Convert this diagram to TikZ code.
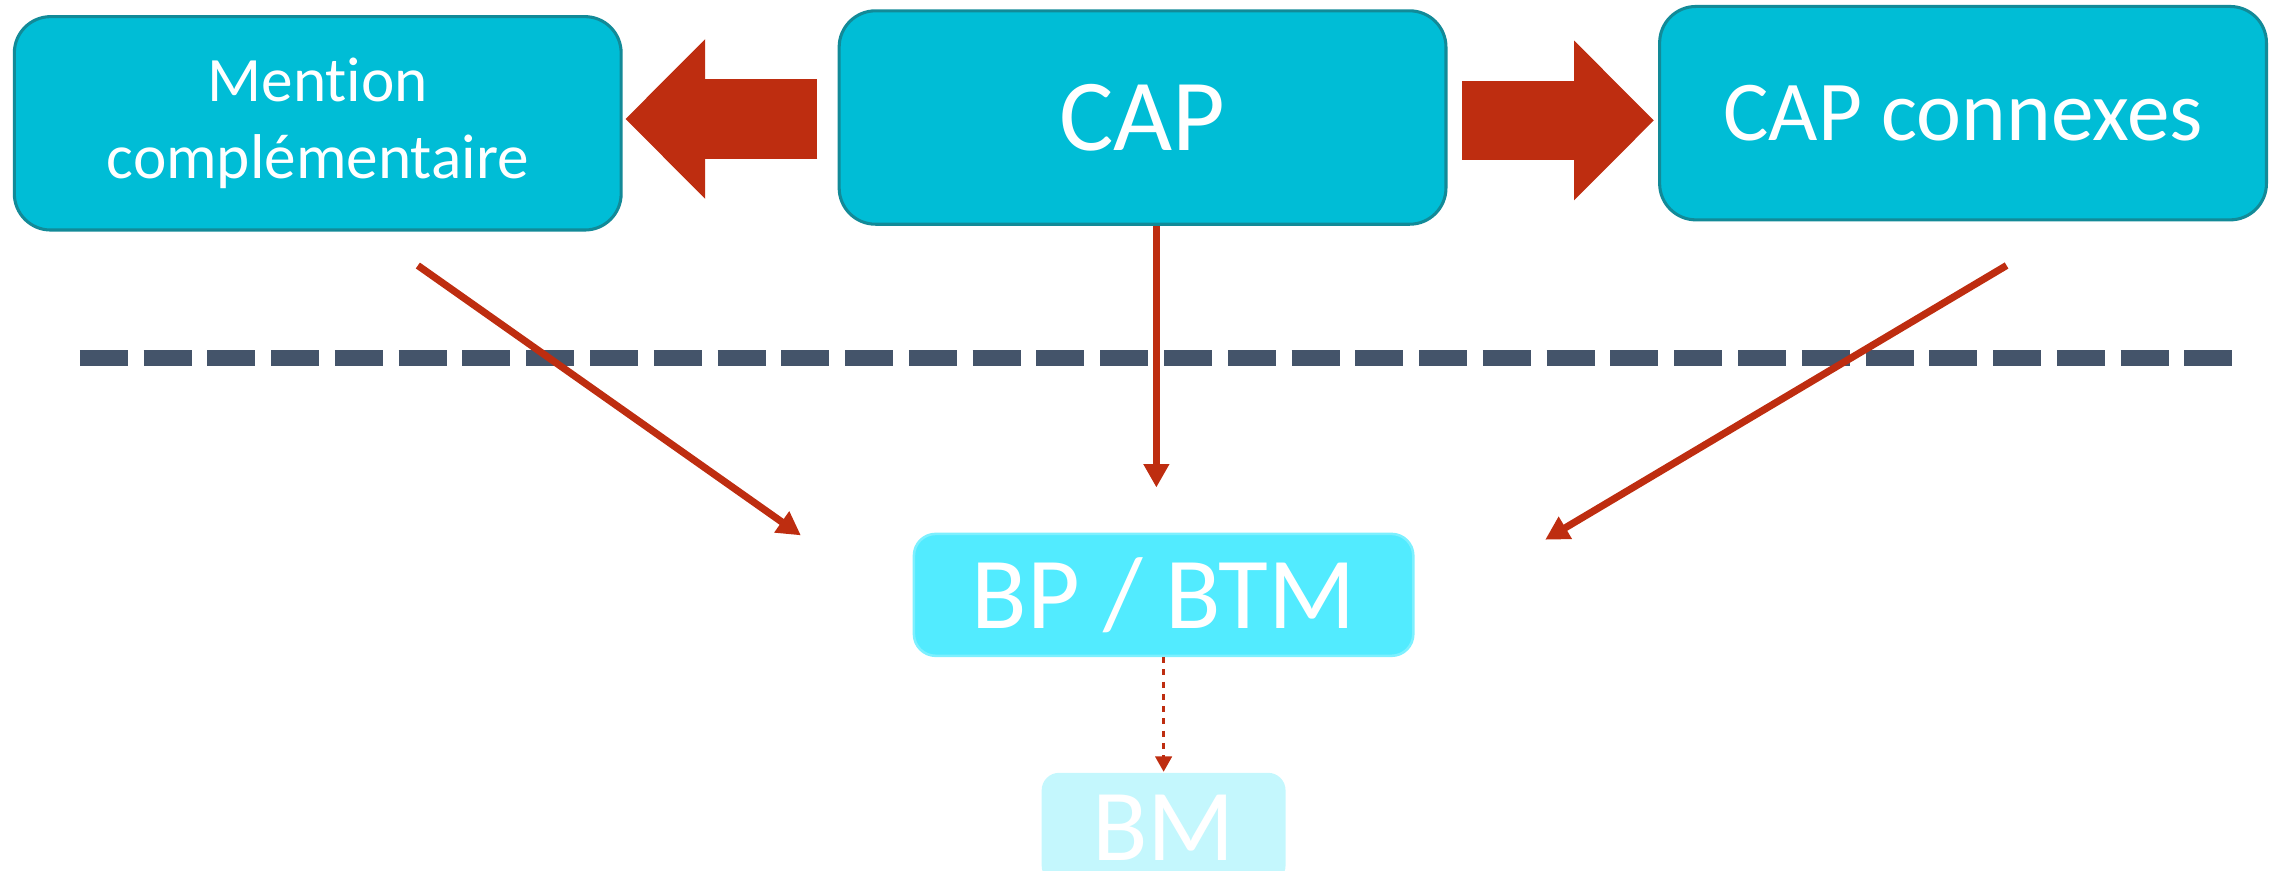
\documentclass[tikz,border=0pt]{standalone}
\usepackage{fontspec}
\setmainfont{Carlito}[Ligatures=NoCommon]
\usepackage{tikz}
\usetikzlibrary{arrows.meta}
\usetikzlibrary{positioning}
\definecolor{capblue}{RGB}{0,189,214}
\definecolor{capedge}{RGB}{18,138,152}
\definecolor{bpblue}{RGB}{82,235,255}
\definecolor{bpedge}{RGB}{125,240,255}
\definecolor{bmblue}{RGB}{196,247,253}
\definecolor{darkred}{RGB}{190,45,16}
\definecolor{slate}{RGB}{68,84,106}
\tikzstyle{topbox}=[draw=capedge,line width=0.6pt,fill=capblue,rounded corners=0.25cm,
                minimum width=4.18cm,minimum height=1.47cm,inner sep=0pt,text=white,align=center]
\tikzstyle{bpbox}=[draw=bpedge,line width=0.5pt,fill=bpblue,rounded corners=0.15cm,
                minimum width=3.44cm,minimum height=0.84cm,inner sep=0pt,text=white]
\tikzstyle{bmbox}=[fill=bmblue,rounded corners=0.12cm,minimum width=1.68cm,
                minimum height=0.76cm,inner sep=0pt,text=white]
\tikzstyle{fat}=[draw=darkred,line width=15.6pt,-{Triangle[length=15.6pt,width=31.3pt,line width=0pt]}]
\tikzstyle{hit}=[draw=darkred,line width=1.4pt,-{Triangle[length=4.6pt,width=4.8pt]}]
\tikzstyle{dots}=[draw=darkred,line width=0.6pt,dash pattern=on 1.2pt off 1.2pt,
                -{Triangle[length=3pt,width=3.2pt]}]
\tikzstyle{sep}=[draw=slate,line width=3.1pt,dash pattern=on 9.4pt off 3.1pt]
\newcommand{\bigtxt}{\fontsize{20}{24}\selectfont}
\begin{document}
\begin{tikzpicture}[x=0.01cm,y=-0.01cm]
\useasboundingbox (0,0) rectangle (1568,600);

\node[topbox,font=\bigtxt] (cap) at (787.5,81) {CAP};
\node[topbox,font=\fontsize{12.4}{15}\selectfont] (mc) at (219,85) {Mention\\compl\'ementaire};
\node[topbox,font=\fontsize{16.7}{20}\selectfont] (capx) at (1353,78) {CAP connexes};

\node[bpbox,font=\bigtxt] (bp) at (802,410) {BP / BTM};
\node[bmbox,font=\bigtxt,below=0.79cm of bp] (bm) {BM};

% separation line
\coordinate (sepl) at (55,247);
\coordinate (sepr) at (1543,247);
\path[sep] (sepl) -- (sepr);

\coordinate (mcfoot) at (288,183);
\coordinate (mcend) at (552,369);
\coordinate (cxfoot) at (1383,183);
\coordinate (cxend) at (1065,372);
\coordinate (bptop) at (797,336);
\coordinate (capl) at ([xshift=-0.14cm,yshift=-0.01cm]cap.west);
\coordinate (capr) at ([xshift=0.1cm,yshift=-0.02cm]cap.east);

\path[fat] (capl) -- ([xshift=0.02cm]capl -| mc.east);
\path[fat] (capr) -- ([xshift=-0.03cm]capr -| capx.west);
\path
 (mcfoot) edge[hit] (mcend)
 (cap.south -| bptop) edge[hit] (bptop)
 (cxfoot) edge[hit] (cxend)
 (bp.south) edge[dots] (bm.north)
;

\end{tikzpicture}
\end{document}
